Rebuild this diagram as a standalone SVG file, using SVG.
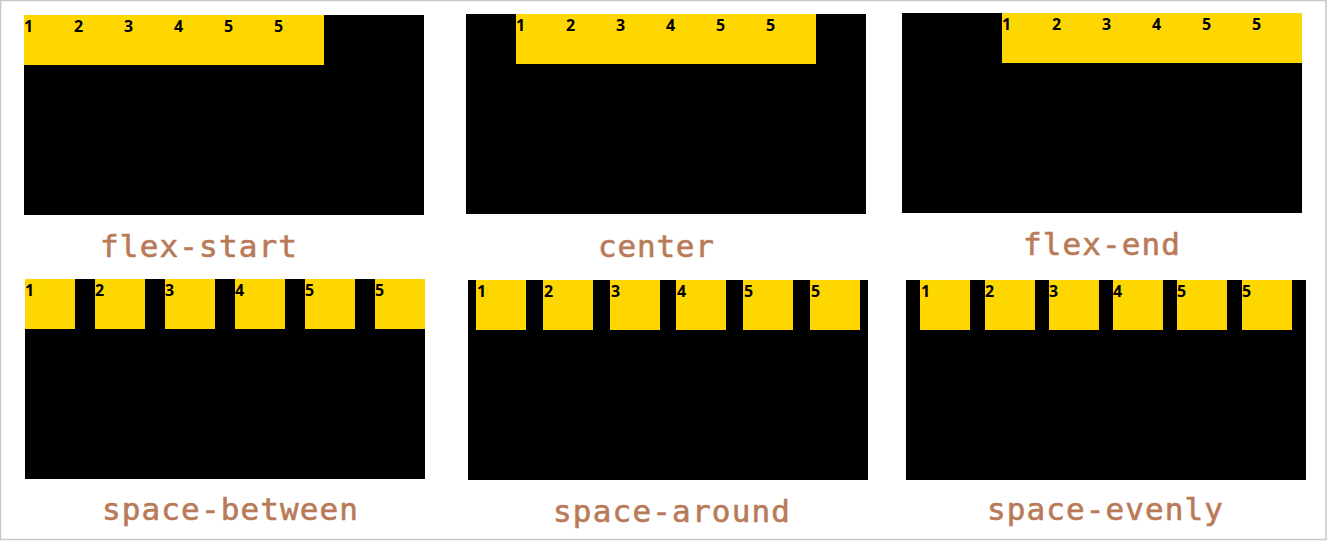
<svg xmlns="http://www.w3.org/2000/svg" width="1327" height="541" viewBox="0 0 1327 541">
<style>
.bg{fill:#000}
.it{fill:#FFD700}
.n{font-family:"Noto Sans","Liberation Sans",sans-serif;font-weight:bold;font-size:16px;fill:#000}
.lb{font-family:"DejaVu Sans Mono","Liberation Mono",monospace;font-size:31px;fill:#B97A57;stroke:#B97A57;stroke-width:0.6}
</style>
<rect x="0" y="0" width="1327" height="541" fill="#fff"/>
<rect x="0.5" y="0.5" width="1325.5" height="539" fill="none" stroke="#c8c8c8" stroke-width="1.5"/>
<g id="flex-start">
<rect class="bg" x="24" y="15" width="400" height="200"/>
<rect class="it" x="24" y="15" width="300" height="50"/>
<text class="n" y="32"><tspan x="24">1</tspan><tspan x="74">2</tspan><tspan x="124">3</tspan><tspan x="174">4</tspan><tspan x="224">5</tspan><tspan x="274">5</tspan></text>
<text class="lb" x="100" y="257" textLength="197">flex-start</text>
</g>
<g id="center">
<rect class="bg" x="466" y="14" width="400" height="200"/>
<rect class="it" x="516" y="14" width="300" height="50"/>
<text class="n" y="31"><tspan x="516">1</tspan><tspan x="566">2</tspan><tspan x="616">3</tspan><tspan x="666">4</tspan><tspan x="716">5</tspan><tspan x="766">5</tspan></text>
<text class="lb" x="598" y="257" textLength="116">center</text>
</g>
<g id="flex-end">
<rect class="bg" x="902" y="13" width="400" height="200"/>
<rect class="it" x="1002" y="13" width="300" height="50"/>
<text class="n" y="30"><tspan x="1002">1</tspan><tspan x="1052">2</tspan><tspan x="1102">3</tspan><tspan x="1152">4</tspan><tspan x="1202">5</tspan><tspan x="1252">5</tspan></text>
<text class="lb" x="1023" y="255" textLength="157">flex-end</text>
</g>
<g id="space-between">
<rect class="bg" x="25" y="279" width="400" height="200"/>
<rect class="it" x="25" y="279" width="50" height="50"/>
<rect class="it" x="95" y="279" width="50" height="50"/>
<rect class="it" x="165" y="279" width="50" height="50"/>
<rect class="it" x="235" y="279" width="50" height="50"/>
<rect class="it" x="305" y="279" width="50" height="50"/>
<rect class="it" x="375" y="279" width="50" height="50"/>
<text class="n" y="296"><tspan x="25">1</tspan><tspan x="95">2</tspan><tspan x="165">3</tspan><tspan x="235">4</tspan><tspan x="305">5</tspan><tspan x="375">5</tspan></text>
<text class="lb" x="102" y="520" textLength="256">space-between</text>
</g>
<g id="space-around">
<rect class="bg" x="468" y="280" width="400" height="200"/>
<rect class="it" x="476" y="280" width="50" height="50"/>
<rect class="it" x="543" y="280" width="50" height="50"/>
<rect class="it" x="610" y="280" width="50" height="50"/>
<rect class="it" x="676" y="280" width="50" height="50"/>
<rect class="it" x="743" y="280" width="50" height="50"/>
<rect class="it" x="810" y="280" width="50" height="50"/>
<text class="n" y="297"><tspan x="477">1</tspan><tspan x="544">2</tspan><tspan x="611">3</tspan><tspan x="677">4</tspan><tspan x="744">5</tspan><tspan x="811">5</tspan></text>
<text class="lb" x="553" y="522" textLength="237">space-around</text>
</g>
<g id="space-evenly">
<rect class="bg" x="906" y="280" width="400" height="200"/>
<rect class="it" x="920" y="280" width="50" height="50"/>
<rect class="it" x="985" y="280" width="50" height="50"/>
<rect class="it" x="1049" y="280" width="50" height="50"/>
<rect class="it" x="1113" y="280" width="50" height="50"/>
<rect class="it" x="1177" y="280" width="50" height="50"/>
<rect class="it" x="1242" y="280" width="50" height="50"/>
<text class="n" y="297"><tspan x="921">1</tspan><tspan x="985">2</tspan><tspan x="1049">3</tspan><tspan x="1113">4</tspan><tspan x="1177">5</tspan><tspan x="1242">5</tspan></text>
<text class="lb" x="987" y="520" textLength="236">space-evenly</text>
</g>
<g id="connectors"/>
</svg>
